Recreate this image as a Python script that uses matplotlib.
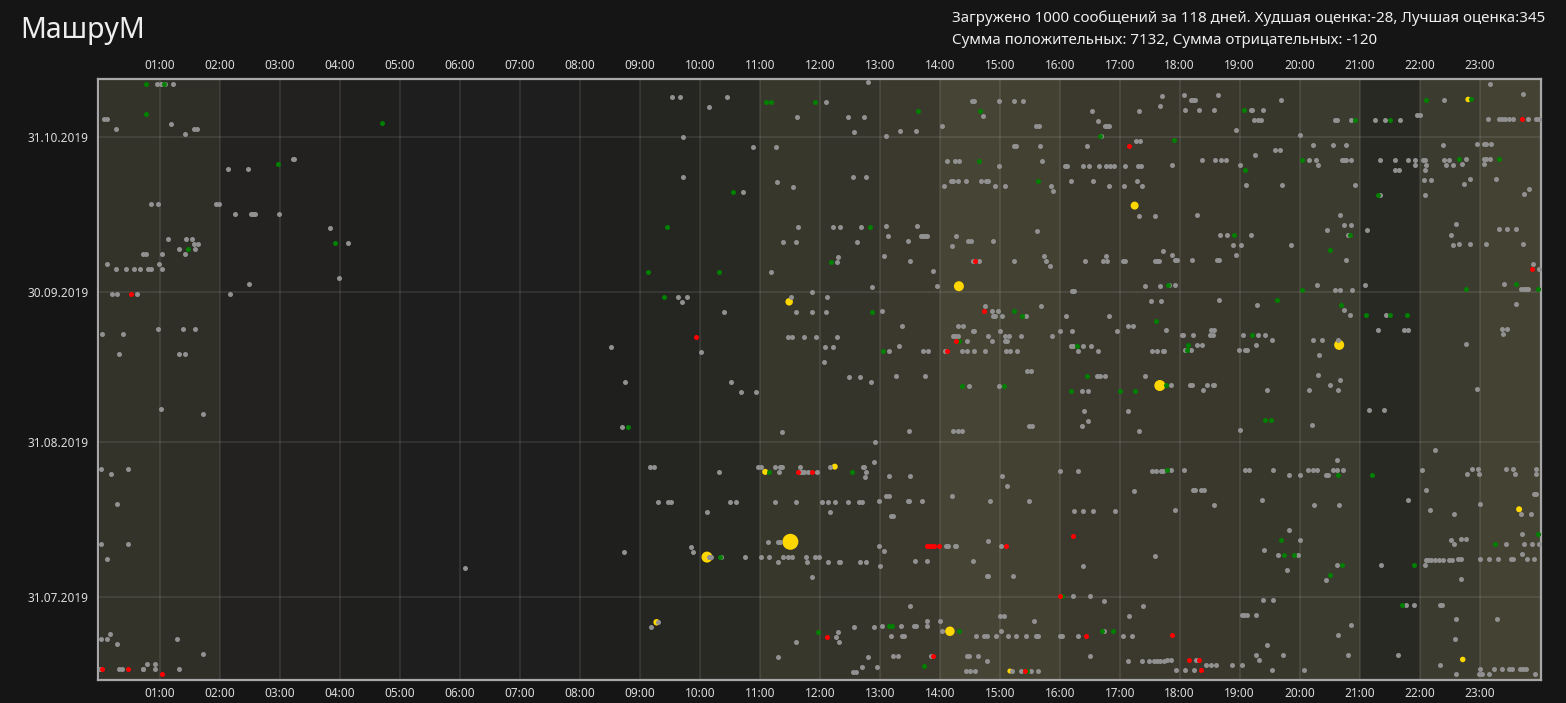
import numpy as np
import matplotlib
matplotlib.use("Agg")
import matplotlib.pyplot as plt

plt.rcParams['font.family'] = ['Noto Sans', 'DejaVu Sans']

# days are counted from 31.07.2019, hours are the time of day
base_date = np.datetime64('2019-07-31')
tick_dates = ['2019-07-31', '2019-08-31', '2019-09-30', '2019-10-31']
hour_labels = ['%02d:00' % h for h in range(1, 24)]

# how busy each hour of the day is (background of the columns)
hour_heat = [0.17, 0.13, 0.04, 0.03, 0.01, 0.0, 0.0, 0.0, 0.01, 0.06, 0.09, 0.20,
             0.18, 0.22, 0.30, 0.28, 0.22, 0.22, 0.21, 0.20, 0.23, 0.09, 0.23, 0.29]

# neutral messages: (day, [hours])
grey_points = [
    # night
    (102, [0.95, 1.02, 1.09, 1.21]), (95, [0.06, 0.11]), (94, [1.19]),
    (93, [0.27, 1.56, 1.61]), (92, [1.41]), (87, [3.21, 3.24]), (85, [2.14, 2.47]),
    (78, [0.85, 0.97, 1.94, 1.98]), (76, [2.25, 2.52, 2.55, 2.59, 2.99]), (73, [3.84]),
    (71, [1.14, 1.44, 1.54]), (70, [1.56, 1.64, 4.14]), (69, [1.31, 1.59]),
    (68, [0.72, 0.77, 1.04, 1.41]), (66, [0.12, 0.99]),
    (65, [0.27, 0.44, 0.57, 0.67, 0.80, 0.85, 1.04]), (63, [3.99]), (62, [2.49]),
    (60, [0.20, 0.29, 0.61, 2.17]), (53, [0.97, 1.39, 1.59]), (52, [0.04, 0.39]),
    (48, [0.31, 1.31, 1.42]), (37, [1.01]), (36, [1.71]), (25, [0.02, 0.47]),
    (24, [0.19]), (18, [0.29]), (10, [0.02, 0.47]), (7, [0.12]), (5, [6.09]),
    (-8, [0.16]), (-9, [0.02, 0.12, 1.29]), (-10, [0.29]), (-12, [1.72]),
    (-14, [0.79, 0.91]), (-15, [0.00, 0.32, 0.37, 0.71, 0.72, 0.91, 1.32]),
    # day
    (102, [12.80]), (99, [9.54, 9.67, 10.45]), (98, [12.10, 14.54, 14.57, 14.99, 15.24, 15.39]),
    (97, [10.16]), (95, [11.62, 12.47, 12.74, 14.72]), (93, [14.03, 15.60, 15.65]),
    (92, [12.57, 13.33, 13.60]), (91, [9.72, 13.10]), (89, [10.89, 11.27, 15.24, 15.27, 15.67]),
    (86, [14.12, 14.26, 14.32, 15.71]), (85, [14.99]), (83, [9.72, 12.56, 12.77]),
    (82, [11.29, 14.19, 14.22, 14.31, 14.44, 14.69, 14.77, 14.81]),
    (81, [11.55, 14.07, 14.92, 15.09, 15.85]), (80, [10.72, 15.89]),
    (73, [11.64, 12.22, 12.34, 12.69, 13.10, 13.62]), (72, [15.62]),
    (71, [13.14, 13.69, 13.72, 13.76, 13.79, 14.27]),
    (70, [11.39, 11.61, 12.62, 13.47, 14.47, 14.52, 14.89]), (69, [14.21]),
    (67, [12.31, 13.07, 15.74]), (66, [12.29, 13.51, 14.55, 14.66, 15.24, 15.77]),
    (65, [15.84]), (64, [11.19, 13.89]),
    (61, [12.87, 13.95]), (60, [11.87]), (59, [9.64, 9.79, 11.52, 12.12]), (58, [9.71]),
    (57, [14.75, 15.69]), (56, [10.41, 11.60, 11.87, 12.10, 13.04, 14.87, 14.97]),
    (55, [14.89, 14.92, 15.04, 15.44]), (53, [13.37, 14.31, 14.39]),
    (52, [14.56, 14.57, 15.00, 16.00]),
    (51, [11.47, 11.54, 11.74, 11.94, 12.29, 14.22, 14.26, 14.31, 14.81, 15.09, 15.16, 15.36, 15.87]),
    (50, [14.45, 14.87, 15.09, 15.12]), (49, [8.52, 12.09, 12.22, 13.32]),
    (48, [10.02, 13.15, 13.72, 13.80, 14.09, 14.37, 14.45, 14.57, 14.75, 15.10, 15.17, 15.29]),
    (46, [12.07]), (44, [15.45, 15.52]), (43, [12.49, 12.67, 13.27, 13.76]),
    (42, [8.76, 10.52, 12.86]), (41, [14.49, 14.99]), (40, [10.69, 10.94]),
    (33, [8.70, 15.49, 15.54]), (32, [11.37, 13.49, 14.22, 14.31, 14.37]), (30, [12.92]),
    (26, [12.90]),
    (25, [9.17, 9.24, 10.97, 11.02, 11.25, 11.34, 11.37, 11.67, 12.17, 12.72, 12.74]),
    (24, [10.32, 11.32, 11.67, 11.70, 11.74, 11.80, 11.95, 12.77, 16.00]),
    (23, [12.75, 13.15, 13.51, 15.04]), (21, [15.12]), (19, [13.11, 13.16, 14.20]),
    (18, [9.31, 9.47, 9.52, 10.50, 10.60, 11.25, 11.61, 12.04, 12.14, 12.26, 12.47,
          12.66, 12.71, 12.99, 13.47, 13.49, 13.70, 14.84, 15.49]),
    (16, [10.12, 12.17]), (15, [13.19, 13.22]), (10, [11.14, 11.31, 11.34, 14.81]),
    (9, [9.85, 12.99, 14.10, 14.14, 14.26, 14.27, 15.02]), (8, [8.74, 9.89, 13.07]),
    (7, [10.15, 10.17, 10.19, 10.36, 10.75, 11.02, 11.16, 11.39, 11.47, 11.54, 11.77,
         11.92, 11.99]),
    (6, [11.31, 11.79, 12.14, 12.32, 12.34, 12.67, 12.77, 13.59, 13.79, 14.55]),
    (5, [13.00]), (3, [11.87, 14.79, 14.81, 15.22]), (-3, [13.51]), (-5, [15.01, 15.07]),
    (-6, [9.31, 13.79, 14.00, 15.57]),
    (-7, [9.19, 12.57, 12.90, 13.04, 13.36, 13.57, 13.60, 13.79]),
    (-8, [12.30, 14.04, 15.02]),
    (-9, [12.27, 13.19, 13.37, 13.40, 14.61, 14.74, 14.79, 14.94, 15.14, 15.27, 15.44,
          15.60, 15.64, 16.00]),
    (-10, [11.61, 12.32]), (-13, [11.31, 12.80, 13.22, 13.31, 13.86, 14.45, 14.49, 14.64]),
    (-14, [14.79]), (-15, [12.71, 12.96]),
    (-16, [12.55, 12.60, 14.44, 14.50, 14.59, 15.20, 15.36, 15.52, 15.64]),
    # evening
    (101, [23.18]), (99, [17.71, 18.07, 18.64, 23.72]),
    (98, [18.19, 18.22, 18.25, 19.69, 22.41]), (97, [17.67]),
    (96, [16.54, 17.32, 18.09, 18.32, 18.57, 19.19, 19.21, 19.39]), (95, [21.96, 22.00]),
    (94, [16.64, 19.24, 19.31, 19.36, 20.59, 20.62, 20.86, 21.26, 21.42, 21.67, 23.14,
          23.32, 23.37, 23.42, 23.49, 23.56, 23.81, 23.94, 23.99]),
    (93, [16.76, 16.79, 16.82]), (92, [18.94]), (91, [16.69, 20.00]), (90, [17.27, 17.34]),
    (89, [16.46, 20.22, 20.55, 20.77, 22.39, 22.96, 23.07, 23.11, 23.19]),
    (88, [19.59, 19.67]), (87, [19.26]),
    (86, [18.37, 18.59, 18.69, 18.77, 20.15, 20.27, 20.71, 20.74, 20.77, 20.86, 21.34,
          21.59, 21.80, 21.92, 22.05, 22.09, 22.41, 22.49, 22.77, 23.07, 23.11, 23.17]),
    (85, [16.09, 16.12, 16.39, 16.49, 16.66, 16.77, 16.84, 16.91, 17.09, 17.31, 17.36,
          17.87, 19.00, 20.30, 21.92, 22.11, 22.44, 22.56, 22.71, 23.07]),
    (84, [21.59, 21.66, 22.09]), (82, [16.19, 16.56, 17.29, 22.07, 22.19, 22.84, 23.27]),
    (81, [16.82, 17.07, 17.37, 19.11, 19.71, 20.92, 22.74]), (80, [23.82]),
    (79, [21.34, 22.09, 23.74]), (75, [17.32, 17.59, 18.29, 20.67]),
    (73, [20.74, 20.86, 22.61]), (72, [20.46, 21.12, 23.32, 23.46, 23.61]),
    (71, [18.67, 18.79, 19.19, 20.80, 22.52]),
    (69, [18.89, 19.02, 19.86, 22.56, 22.66, 22.84, 23.11, 23.72]), (68, [17.72]),
    (67, [16.77, 17.87, 18.94]),
    (66, [16.42, 16.72, 16.79, 17.06, 17.09, 17.59, 17.62, 17.66, 17.92, 17.96, 18.20,
          18.62, 18.65, 20.77]),
    (65, [23.89]), (64, [23.99]),
    (61, [17.42, 17.67, 17.82, 17.92, 20.29, 21.09, 23.41]),
    (60, [16.21, 16.24, 20.59, 20.67, 20.87, 23.69, 23.74, 23.78, 23.81]),
    (58, [17.52, 17.69, 18.66]), (57, [19.29, 23.61]), (56, [20.74]),
    (55, [16.11, 16.82, 20.84, 21.44]), (53, [17.14, 17.22]),
    (52, [16.21, 16.96, 17.77, 18.52, 18.57, 21.31, 21.74, 21.80, 23.37, 23.46]),
    (51, [18.04, 18.05, 18.22, 18.51, 18.56, 19.06, 19.31, 19.42, 23.39]),
    (50, [19.54, 20.22, 20.37, 20.64]),
    (49, [16.19, 16.22, 16.39, 16.52, 18.29, 18.37, 19.27, 22.77]),
    (48, [16.31, 16.64, 17.54, 17.62, 17.72, 17.74, 18.09, 18.19, 18.99, 19.09, 19.12]),
    (47, [20.32]), (43, [16.62, 16.67, 16.75, 17.42, 20.30]), (42, [20.67]),
    (41, [17.86, 18.17, 18.20, 18.45, 18.55, 18.57, 20.50]),
    (40, [16.37, 16.47, 18.39, 19.46, 20.16, 20.64, 22.96]),
    (36, [16.41, 17.14, 21.15, 21.40]), (34, [16.47]), (33, [16.37, 20.21]),
    (32, [17.32, 19.00]), (28, [22.26]), (26, [20.62]),
    (24, [16.31, 17.54, 17.61, 17.69, 17.72, 17.86, 18.07, 19.09, 19.16, 19.56, 20.14,
          20.22, 20.29, 20.56, 20.62, 20.72, 22.04, 22.87, 22.97, 23.44, 23.56, 23.94]),
    (23, [19.82, 20.00, 20.44, 20.47, 22.79, 22.99, 23.59, 23.94]),
    (20, [17.24, 18.22, 18.25, 18.35, 18.40, 22.11]), (19, [23.91, 23.94]),
    (18, [19.37, 21.80]), (17, [18.57, 20.24, 20.66, 23.00]),
    (16, [16.24, 16.39, 16.56, 16.92, 17.92, 22.17]), (15, [22.57, 23.69, 23.86]),
    (12, [19.82]), (11, [23.70]), (10, [20.00, 22.52, 22.69, 22.77]),
    (9, [22.57, 23.44, 23.74, 23.87, 23.99]), (8, [19.40]),
    (7, [17.59, 19.64, 19.97, 23.70]),
    (6, [22.10, 22.14, 22.19, 22.26, 22.32, 22.39, 22.49, 22.54, 22.64, 22.69, 23.00,
         23.15, 23.30, 23.52, 23.56, 23.79, 23.90]),
    (5, [16.39, 20.62, 21.35, 22.09]), (4, [19.79]), (2, [20.44, 22.69]),
    (-1, [16.22, 16.50]), (-2, [16.74, 19.39, 19.56]),
    (-3, [17.39, 21.77, 21.91, 22.34, 22.37]), (-5, [17.15, 19.04, 19.07, 19.12, 19.27]),
    (-6, [22.61, 23.29]), (-7, [20.85]), (-8, [16.74]),
    (-9, [16.04, 16.31, 17.05, 17.20, 20.64]), (-10, [22.59]), (-11, [19.46]),
    (-13, [16.50, 19.27, 19.72, 20.80, 21.64]),
    (-14, [17.14, 17.37, 17.49, 17.57, 17.62, 17.67, 17.74, 17.79, 17.86, 18.27, 19.32]),
    (-15, [18.44, 18.52, 18.60, 18.87, 19.04, 22.34]),
    (-16, [17.94, 18.09, 18.24, 19.54, 20.07, 23.00, 23.24, 23.37, 23.49, 23.54, 23.67,
           23.72, 23.78]),
    (-17, [22.60, 22.99, 23.04, 23.16, 23.93]),
]

# positive messages
green_points = [
    (102, [0.76, 1.06]), (96, [0.76]), (94, [4.70]), (86, [2.96]), (70, [3.92]), (69, [1.47]),
    (98, [11.10, 11.19, 11.92]), (96, [13.63, 14.67]), (86, [14.66]), (82, [15.64]),
    (80, [10.55]), (73, [9.46, 12.84]), (66, [12.19]), (64, [9.14, 10.32]),
    (59, [9.40]), (56, [12.87, 15.24]), (55, [15.37]), (50, [14.32]), (48, [13.05]),
    (41, [14.37, 15.07]), (33, [8.80]), (24, [11.15, 12.54]), (7, [10.34]),
    (-7, [13.16, 13.21]), (-8, [11.97, 14.32]), (-15, [13.74]), (-16, [15.45]),
    (98, [22.11, 22.86]), (96, [19.07]), (94, [20.92, 21.51]), (91, [16.67]), (90, [17.90]),
    (86, [20.04, 22.66, 23.32]), (84, [19.09]), (79, [21.31]), (71, [18.91, 20.84]),
    (68, [20.50]), (61, [17.80, 23.61]), (60, [20.04, 22.77, 23.97]), (58, [19.62]),
    (57, [20.69]), (55, [21.11, 21.51, 21.79]), (54, [17.60]), (51, [19.21]),
    (49, [16.29, 18.14]), (48, [18.12]), (43, [16.46]), (41, [17.77]),
    (40, [16.19, 17.00, 17.25]), (34, [19.42, 19.52]), (24, [17.79]), (23, [20.64, 21.20]),
    (11, [23.97]), (10, [19.69]), (9, [23.26]), (7, [19.74, 19.91]), (5, [20.71, 21.91]),
    (3, [20.50]), (-1, [16.04]), (-3, [21.71]), (-8, [16.71, 16.89]),
]

# negative messages
red_points = [
    (60, [0.52]), (-15, [0.04, 0.46]), (-16, [1.04]),
    (66, [14.59]), (56, [14.74]), (51, [9.94]), (50, [14.27]), (48, [14.12]),
    (24, [11.64, 11.87]), (9, [13.78, 13.82, 13.86, 13.90, 13.99, 15.11]), (-1, [16.00]),
    (-9, [12.12]), (-13, [13.89]), (-16, [15.42]),
    (94, [23.71]), (89, [17.16]), (64, [23.87]), (11, [16.22]), (-9, [16.44, 17.87]),
    (-14, [18.16, 18.32]), (-16, [18.36]),
]

# best rated messages: day, hour, score
top_day = [10, 61, 7, 41, 49, -8, 77, 58, -6, 16, 25, 24, 98, -14, -16]
top_hour = [11.51, 14.32, 10.12, 17.67, 20.66, 14.17, 17.25, 11.49, 9.28, 23.66, 12.25,
            11.09, 22.81, 22.72, 15.17]
top_score = [345, 135, 163, 163, 135, 122, 86, 76, 57, 49, 49, 49, 41, 41, 34]

title_text = 'МашруМ'
info_lines = ['Загружено 1000 сообщений за 118 дней. Худшая оценка:-28, Лучшая оценка:345',
              'Сумма положительных: 7132, Сумма отрицательных: -120']


def unpack(points):
    hours = []
    ys = []
    for day, hh in points:
        for h in hh:
            hours.append(h)
            ys.append(day + 0.5 + h / 24.0)
    return np.array(hours), np.array(ys)


W, H = 1566, 703
fig = plt.figure(figsize=(W / 100, H / 100), dpi=100, facecolor='#151515')
ax = fig.add_axes([98.5 / W, (H - 680) / H, (1541 - 98.5) / W, (680 - 79) / H])
ax.set_facecolor('#1e1e1e')

for h, heat in enumerate(hour_heat):
    ax.axvspan(h, h + 1, color='#a39c68', alpha=heat, lw=0, zorder=0)

dot = 13
gx, gy = unpack(grey_points)
ex, ey = unpack(green_points)
rx, ry = unpack(red_points)
tx = np.array(top_hour)
ty = np.array(top_day) + 0.5 + tx / 24.0
ts = (16 * np.sqrt(np.array(top_score) / 345.0) * 0.72) ** 2

ax.scatter(tx, ty, s=ts, color='#ffd700', lw=0, zorder=3)
ax.scatter(gx, gy, s=dot, color='#919191', lw=0, zorder=4)
ax.scatter(ex, ey, s=dot, color='#008000', lw=0, zorder=5)
ax.scatter(rx, ry, s=dot, color='#ff0000', lw=0, zorder=6)

ax.set_xlim(-0.025, 24.025)
ax.set_ylim(-16.66, 103.54)

ax.set_xticks(range(1, 24))
ax.set_xticklabels(hour_labels)
tick_pos = [(np.datetime64(t) - base_date) / np.timedelta64(1, 'D') for t in tick_dates]
ax.set_yticks(tick_pos)
ax.set_yticklabels(['.'.join(reversed(t.split('-'))) for t in tick_dates])
ax.tick_params(axis='x', top=True, labeltop=True, bottom=True, labelbottom=True,
               length=0, pad=5, labelsize=8.5, colors='#dcdcdc')
ax.tick_params(axis='y', length=0, pad=7, labelsize=8.5, colors='#dcdcdc')
ax.grid(True, color='#ffffff', alpha=0.09, lw=1.3, zorder=1)
ax.set_axisbelow(True)

for sp in ax.spines.values():
    sp.set_color('#a8a8a8')
    sp.set_linewidth(1.6)

fig.text(20 / W, 1 - 38 / H, title_text, fontsize=20.5, color='#eeeeee', va='baseline')
fig.text(952 / W, 1 - 22 / H, info_lines[0], fontsize=10.9, color='#eeeeee', va='baseline')
fig.text(952 / W, 1 - 44 / H, info_lines[1], fontsize=10.9, color='#eeeeee', va='baseline')

fig.savefig('out.png', dpi=100, facecolor=fig.get_facecolor())
